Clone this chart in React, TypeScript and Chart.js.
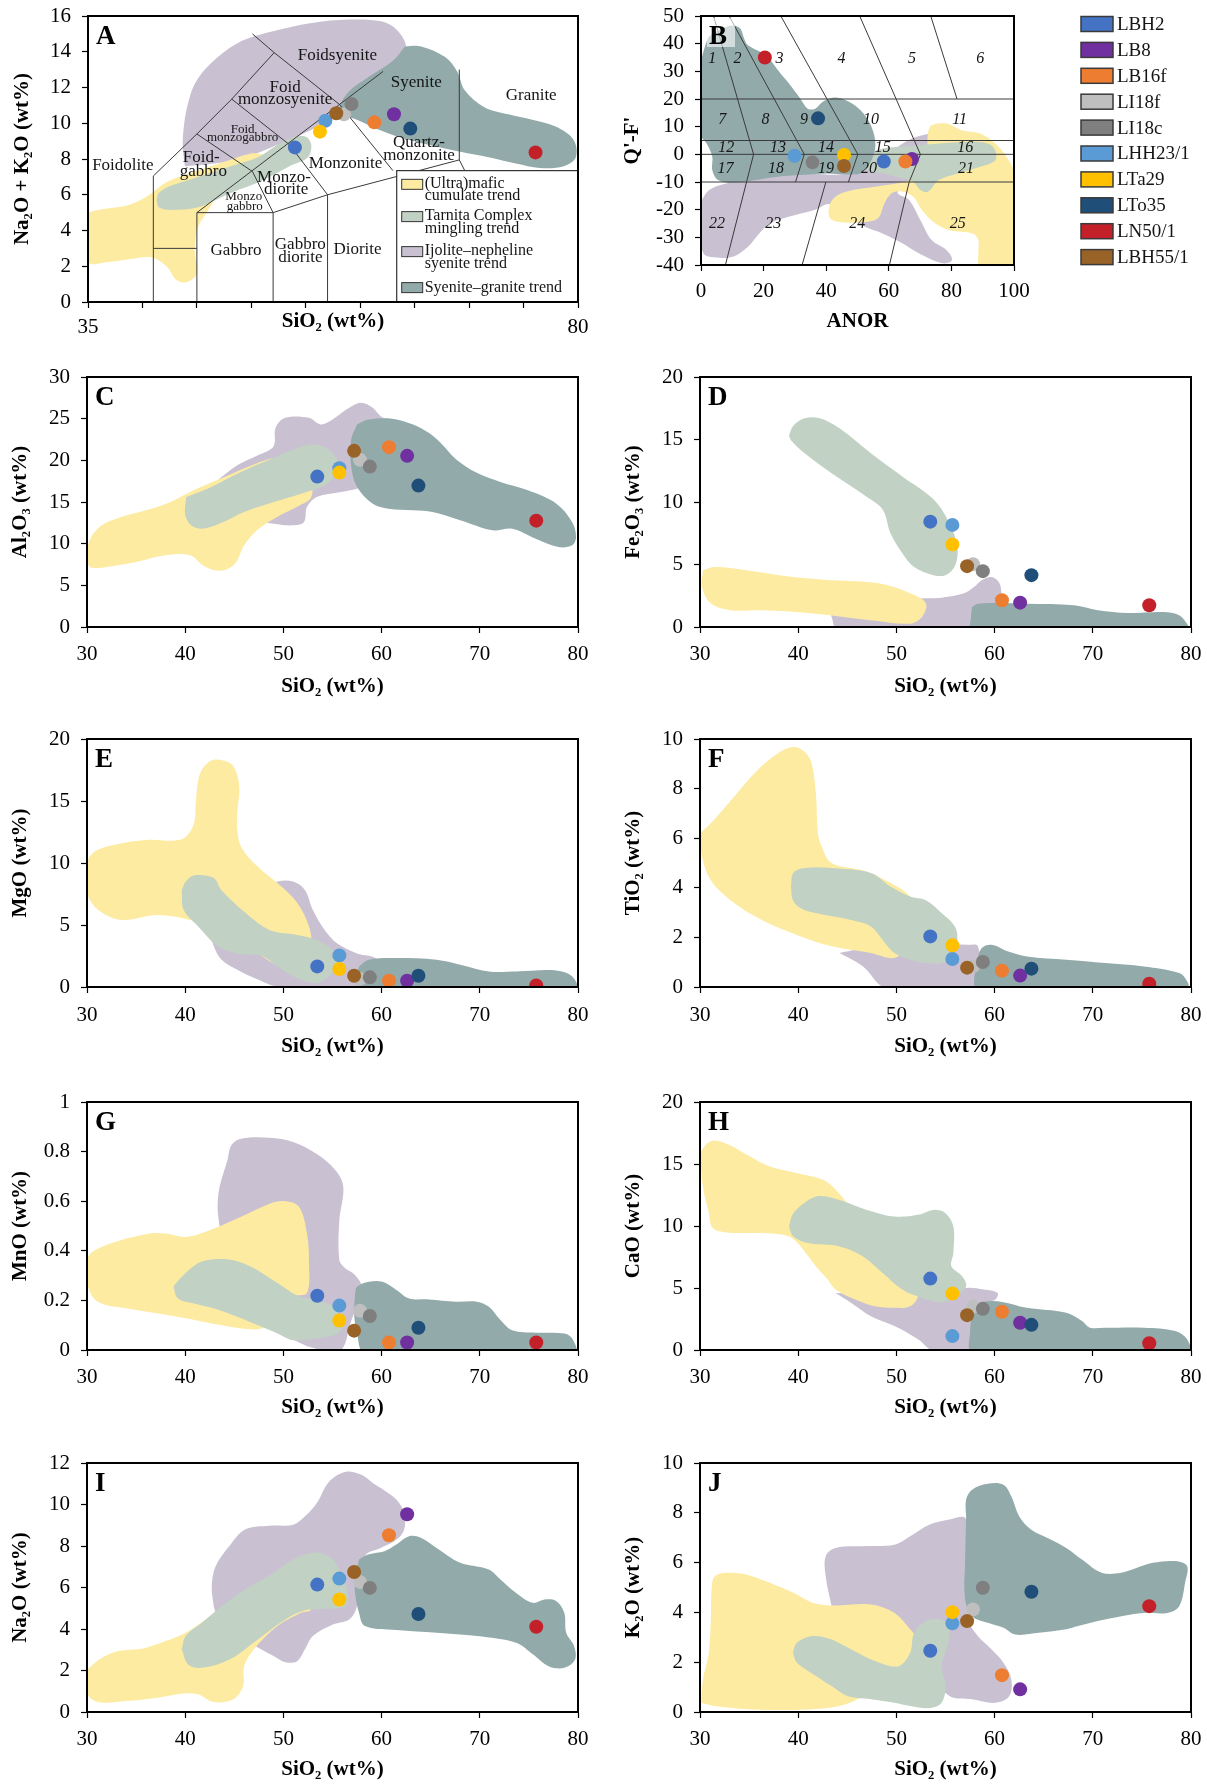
import React, { useEffect, useRef } from 'react';
import { Chart, registerables } from 'chart.js';

Chart.register(...registerables);

const SERIF = "'Liberation Serif', 'Times New Roman', 'DejaVu Serif', serif";
type P = [number, number];

// ---------------- sample data ----------------
const SAMPLES = ['LBH2', 'LB8', 'LB16f', 'LI18f', 'LI18c', 'LHH23/1', 'LTa29', 'LTo35', 'LN50/1', 'LBH55/1'];
const SAMPLE_COLORS = ['#4472C4', '#7030A0', '#ED7D31', '#BFBFBF', '#7F7F7F', '#5B9BD5', '#FFC000', '#1F4E79', '#C4202A', '#996328'];
const SIO2 = [53.45, 62.6, 60.75, 57.8, 58.8, 55.7, 55.7, 63.75, 75.75, 57.2];
const AL2O3 = [18.05, 20.54, 21.58, 20.06, 19.25, 19.05, 18.53, 16.97, 12.76, 21.14];
const FE2O3 = [8.43, 1.95, 2.14, 5.03, 4.47, 8.17, 6.61, 4.15, 1.74, 4.87];
const MGO = [1.66, 0.51, 0.51, 0.64, 0.78, 2.55, 1.45, 0.91, 0.13, 0.91];
const TIO2 = [2.04, 0.46, 0.66, 0.83, 1.01, 1.13, 1.68, 0.74, 0.13, 0.78];
const MNO = [0.219, 0.03, 0.03, 0.158, 0.137, 0.179, 0.119, 0.09, 0.03, 0.078];
const CAO = [5.76, 2.2, 3.08, 3.48, 3.32, 1.12, 4.55, 2.03, 0.54, 2.81];
const NA2O = [6.14, 9.53, 8.52, 6.27, 5.98, 6.43, 5.42, 4.72, 4.11, 6.75];
const K2O = [2.46, 0.91, 1.48, 4.12, 4.99, 3.56, 4.01, 4.83, 4.25, 3.65];
const TAS_SIO2 = [54.0, 63.1, 61.3, 58.5, 59.2, 56.8, 56.3, 64.6, 76.1, 57.8];
const TAS_ALK = [8.65, 10.5, 10.05, 10.5, 11.08, 10.14, 9.53, 9.7, 8.37, 10.56];
const ANOR = [58.4, 67.4, 65.3, 35.6, 35.6, 29.9, 45.7, 37.4, 20.4, 45.7];
const QF = [-2.6, -1.7, -2.6, -2.9, -2.9, -0.5, -0.2, 13.0, 35.0, -4.2];

// ---------------- trend envelopes ----------------
const TRENDS = ['purple', 'yellow', 'green', 'teal'];
const TREND_FILL: any = { purple: '#C9C1D2', yellow: '#FDEBA1', green: '#C1D1C4', teal: '#92AAAA' };
const TREND_Z: any = { purple: 4, yellow: 3, green: 2, teal: 1 };
const TREND_NAMES = [
  ['(Ultra)mafic', 'cumulate trend'],
  ['Tarnita Complex', 'mingling trend'],
  ['Ijolite\u2013nepheline', 'syenite trend'],
  ['Syenite\u2013granite trend'],
];
const TREND_LEGEND_KEYS = ['yellow', 'green', 'purple', 'teal'];

const A_YELLOW: P[] = [[34.9,5.0],[36.4,5.2],[38.6,5.4],[40.4,5.9],[42.2,6.7],[44.4,7.2],[47.3,7.8],[49.9,8.3],[51.2,8.2],[51,7.85],[48.8,7.2],[47.3,6.6],[46.6,5.7],[45.9,5.0],[45.1,4.2],[44.8,2.9],[45,1.6],[44,1.1],[43.1,1.25],[42.2,2.0],[40.8,2.5],[38.9,2.4],[36.4,2.2],[35.1,2.2],[34.9,3.85]];
const A_GREEN: P[] = [[41.3,5.7],[41.5,5.3],[42.6,5.15],[45.1,5.3],[48.1,6.1],[51,6.8],[53.5,7.6],[55.2,8.1],[55.5,8.8],[55,9.25],[53.9,9.25],[52.4,8.8],[50.6,8.1],[48.1,7.6],[45.1,7.0],[42.6,6.5],[41.5,6.1]];
const A_PURPLE: P[] = [[43.9,7.6],[43.7,8.7],[43.8,9.8],[44.1,10.9],[44.8,12.2],[46.2,13.3],[48.8,14.5],[51.7,15.1],[55.4,15.6],[59,15.8],[61.9,15.7],[63.4,15.2],[64.2,14.2],[63,12.5],[60,11],[57.9,10.4],[55.4,9.6],[52.4,8.8],[49,8.0],[46,7.7]];
const A_TEAL: P[] = [[64.1,14.3],[63,13.5],[60.8,12.6],[59,11.8],[58.1,10.9],[58.3,10.5],[59.7,10.2],[61.9,9.6],[64.5,9.06],[67,8.7],[69.2,8.4],[71.8,8.1],[74.3,7.75],[76.5,7.5],[78.7,7.6],[79.8,8.1],[79.6,9.06],[78,9.8],[75.8,10.2],[73.6,10.5],[71.4,10.9],[69.6,11.85],[68.9,12.9],[67.8,13.7],[65.6,14.3]];

const B_TEAL: P[] = [[2.4,42.4],[5.4,44.8],[10.2,46.6],[12.6,45.4],[13.8,41.8],[15,39.4],[19.8,36.4],[22.2,34],[24.6,30.4],[28.1,25.6],[31.7,20.2],[34.1,16.5],[36.5,16.5],[38.9,19],[42.5,20.5],[46.1,19.6],[50.9,16],[54.5,9.9],[55.7,2.7],[53.9,-3.3],[50.9,-6.9],[46.1,-7.2],[40.1,-6.9],[31.7,-7.5],[24.6,-8.1],[17.4,-9.3],[10.2,-10.3],[5.4,-9.3],[3.6,-5.7],[3.6,-0.9],[1.8,3.9],[-0.5,7.5],[-0.5,19.6],[-0.3,31.6],[1.2,38.8]];
const B_PURPLE: P[] = [[-0.5,-18],[2.5,-13],[8,-10.5],[20,-8],[35,-7],[46,-7],[58,-1],[66,5],[71,7],[74,7],[76,3],[74,-3],[70,-8],[64,-11],[62.9,-14.1],[66.5,-16.5],[70.1,-23.8],[73.7,-31],[78.4,-34.6],[80.2,-38.2],[77.2,-39.4],[70,-36],[64,-32],[58,-28.6],[52,-26],[47,-22],[41,-18],[36.5,-20],[28,-22.6],[22,-25],[18.6,-28.6],[15,-33.4],[10.2,-37],[4.2,-37.2],[0.8,-35.8],[-0.5,-28]];
const B_YELLOW: P[] = [[40.7,-21.4],[41.3,-17.7],[43.7,-14.7],[48.5,-12.9],[55.7,-11.7],[65.3,-9.9],[69,-8],[72,-3],[72.5,7.5],[73.7,10.5],[78.4,11.1],[83.2,8.7],[89.2,7.5],[94,3.9],[97.6,-0.9],[100.5,-8.1],[100.5,-41],[89.2,-41],[88.6,-35.8],[88.6,-31],[86.8,-28.6],[79.6,-27.4],[74.9,-25],[70.5,-20],[68,-15.5],[64.5,-13.5],[61,-14],[58.5,-18],[57,-22.5],[55,-24],[48.5,-24.7],[43.7,-24.4],[41.3,-23.2]];
const B_GREEN: P[] = [[52.1,-3.3],[53.3,-0.3],[58.1,2.1],[64.1,2.7],[70.1,3.3],[76,3.9],[84.4,4.5],[91.6,3.9],[94,1.5],[94,-2.1],[89.2,-4.5],[82,-6.9],[76,-9.3],[72.5,-13.5],[70.1,-12.9],[67.7,-9.9],[58.1,-6.9],[53.3,-5.7]];

const C_YELLOW: P[] = [[29.8,8.0],[30.3,10.5],[31.5,12.2],[33.5,13.2],[36,14.0],[38.5,15.0],[41,16.5],[44,18.0],[47,19.5],[49.5,20.3],[51.5,19.5],[52.8,17.5],[52.8,15.5],[51.5,14.5],[49.5,13.3],[47.5,11.8],[46,9.8],[45.2,7.8],[44.2,6.9],[43,6.8],[41.8,7.4],[40.5,8.6],[38,8.6],[35,7.8],[32.5,7.3],[30.5,7.1]];
const C_GREEN: P[] = [[40.1,15.6],[40,13.5],[40.6,12.2],[41.8,11.8],[43.7,12.5],[46,13.8],[49,15.0],[51.8,16.0],[54.2,17.0],[55.4,18.4],[55.5,20],[54.5,21.4],[53,21.9],[51,21.3],[49,20.3],[45.5,18.5],[42.5,16.7]];
const C_PURPLE: P[] = [[43.3,17.6],[45.3,19.4],[47.4,20.6],[49,21.7],[49.2,23.9],[50.2,25.1],[52.6,25.1],[53.8,24.3],[55,24.9],[56.7,26.3],[57.9,26.9],[59.1,26.3],[60,25.2],[61.5,24.5],[61,20],[58.5,17],[57.5,16.6],[55.9,16.2],[53.4,15.6],[52.4,14.4],[52.1,12.6],[51,12.2],[49,12.4],[47,12.8],[45,14],[44,15.5]];
const C_TEAL: P[] = [[57.5,24.3],[58.7,24.9],[61.1,25.0],[63.2,24.3],[64.8,23.3],[66,22.1],[67.6,20.1],[69.7,18.5],[72.1,17.4],[74.9,16.4],[77.8,14.8],[79.4,12.6],[79.8,10.8],[79.4,9.8],[78,9.6],[75.7,10.6],[73.3,11.8],[71.3,11.6],[68,12.8],[65.2,13.8],[63.2,14.0],[60.7,14.2],[59.1,14.8],[57.5,16.8],[56.9,19.3],[56.9,22.5]];

const D_GREEN: P[] = [[39.06,15.3],[39.5,16.1],[40.65,16.7],[42.2,16.7],[44.2,15.9],[47.4,13.9],[50.6,12.05],[53.8,10.2],[55.4,8.3],[56.2,6.4],[56,4.95],[55,4.15],[53.8,4.15],[51.8,4.8],[50.6,5.9],[49.4,7.5],[48.6,9.4],[47,10.4],[43.4,12.3],[40.65,13.9],[39.3,14.9]];
const D_YELLOW: P[] = [[30.3,4.55],[31.5,4.8],[34.7,4.55],[39.5,4.0],[43.4,3.75],[48.2,3.5],[51.4,2.7],[53,1.9],[52.6,0.8],[51.4,0.27],[47.4,0.54],[41.8,1.07],[36.3,1.34],[33.1,1.34],[31.1,1.9],[30.2,3.2]];
const D_PURPLE: P[] = [[43.4,0.8],[44,-0.2],[58.9,-0.2],[60.7,0.27],[60.7,2.4],[60.5,3.5],[59.7,4.0],[58.7,3.75],[57.9,3.2],[56.9,2.7],[54.6,2.35],[53,2.3],[49.8,2.1],[45,1.7],[43.4,1.2]];
const D_TEAL: P[] = [[57.7,1.6],[58.3,1.87],[63.3,1.87],[68.1,1.74],[70.5,1.34],[73.6,1.12],[77.2,1.2],[78.8,0.94],[79.7,0.13],[79.8,-0.2],[57.7,-0.2],[57.6,0.8]];

const E_YELLOW: P[] = [[29.8,8.1],[30.1,10.25],[31.1,11.06],[33.6,11.6],[36.4,11.87],[38.8,11.8],[40.05,12.1],[40.9,13.2],[41.1,15.1],[41.5,17.2],[42.5,18.2],[43.7,18.3],[44.9,17.8],[45.5,16.2],[45.3,14.0],[45.3,12.7],[45.7,11.3],[47.4,9.7],[49.8,8.1],[51.4,6.8],[52.6,4.9],[52.8,3.3],[51.8,1.9],[49.8,1.66],[47.4,2.7],[43.7,4.6],[40.5,5.4],[37.2,5.8],[33.6,5.4],[31.5,6.0],[30.3,7.0]];
const E_GREEN: P[] = [[39.65,7.8],[40.05,8.5],[40.9,9.0],[42.9,8.8],[43.7,7.8],[46.1,6.0],[48.6,4.6],[51.4,4.2],[53.4,3.8],[55,3.0],[55.5,1.9],[54.2,0.6],[53,0.32],[51,0.86],[49.4,1.66],[47.8,2.5],[45.3,2.7],[43.3,3.3],[41.3,4.9],[39.85,6.2]];
const E_PURPLE: P[] = [[42.5,4.6],[42.9,3.3],[43.7,2.2],[45.3,1.4],[47.4,0.6],[49.4,0.05],[59.1,0.05],[59.5,2.2],[57.5,2.7],[55.5,3.5],[54.2,4.6],[53,6.2],[52.2,7.8],[51,8.5],[49.4,8.5],[47,7.5],[44,5.5]];
const E_TEAL: P[] = [[57.7,1.66],[58.7,2.2],[61.5,2.34],[65.6,2.2],[68,1.8],[70.9,1.26],[73.7,1.26],[77.8,1.34],[79.4,0.86],[79.8,-0.1],[57.9,-0.1],[57.5,0.86]];

const F_YELLOW: P[] = [[30.0,6.2],[31.1,6.6],[33.1,7.5],[35.5,8.6],[37.5,9.3],[39.06,9.65],[40.25,9.6],[41.25,9.15],[41.8,7.8],[42,6.2],[42.4,5.66],[43.4,5.0],[46.6,4.7],[48.2,4.45],[51.4,3.65],[51.8,2.85],[51,1.64],[49.8,1.17],[47.4,1.37],[43.4,1.64],[40.25,2.04],[36.3,2.7],[33.1,3.5],[31.1,4.3],[30.2,5.26]];
const F_GREEN: P[] = [[39.26,4.05],[39.5,4.6],[40.65,4.8],[43.4,4.8],[47.4,4.6],[49.4,4.05],[51.4,3.65],[53,3.5],[54.6,2.98],[55.95,2.44],[56.2,1.9],[55.6,1.23],[54.6,0.97],[53,0.97],[51.4,1.1],[49.8,1.37],[48.6,1.9],[47.4,2.44],[45.4,2.7],[41.8,2.98],[40.25,3.18],[39.46,3.5]];
const F_PURPLE: P[] = [[44.2,1.37],[46.6,0.83],[49,-0.05],[58.5,-0.05],[58.3,1.64],[57.3,1.7],[54.2,1.7],[50,1.6],[46,1.5]];
const F_TEAL: P[] = [[58.1,0.97],[58.7,1.57],[59.7,1.7],[61.3,1.44],[63.3,1.23],[67.3,1.1],[71.25,0.97],[75.2,0.83],[78.8,0.56],[79.6,0.23],[79.7,-0.05],[58.3,-0.05]];

const G_YELLOW: P[] = [[29.8,0.36],[30.7,0.4],[33.2,0.44],[36.4,0.47],[38,0.47],[40,0.456],[42.1,0.477],[45.3,0.53],[48.6,0.59],[50.2,0.6],[51.6,0.577],[52.4,0.47],[52.6,0.36],[52.4,0.23],[51,0.215],[49.4,0.134],[48.2,0.094],[47,0.083],[43.7,0.1],[39.2,0.134],[34,0.168],[31.1,0.195],[30.1,0.255]];
const G_GREEN: P[] = [[38.8,0.255],[39.65,0.295],[41.3,0.35],[42.9,0.366],[44.9,0.362],[47,0.33],[49.4,0.27],[51.4,0.22],[53.4,0.2],[55,0.175],[56.1,0.107],[55.5,0.067],[53.4,0.047],[51,0.04],[49.4,0.067],[47.4,0.1],[45.3,0.134],[42.9,0.168],[40.9,0.188],[39.25,0.208]];
const G_PURPLE: P[] = [[43.5,0.497],[43.3,0.577],[43.5,0.657],[44.3,0.765],[44.7,0.826],[45.7,0.852],[48.6,0.856],[51,0.839],[53.4,0.79],[55.3,0.725],[56.1,0.658],[55.7,0.523],[55.7,0.362],[56.3,0.33],[57.1,0.309],[57.9,0.268],[58.1,0.228],[57.5,0.175],[56.7,0.094],[56.3,0.027],[55.5,-0.01],[52.6,0.013],[51.4,0.034],[50.2,0.054],[47,0.2],[44,0.4]];
const G_TEAL: P[] = [[57.3,0.228],[57.5,0.255],[58.7,0.275],[60.1,0.275],[61.5,0.242],[62.8,0.208],[64.8,0.204],[67.6,0.195],[69.7,0.195],[70.9,0.175],[72.1,0.121],[73.3,0.08],[75.7,0.07],[78.6,0.067],[79.4,0.047],[79.7,-0.01],[58.3,-0.01],[57.5,0.067],[57.2,0.148]];

const H_YELLOW: P[] = [[30.0,15.85],[30.7,16.65],[31.5,16.9],[33.1,16.5],[35.1,15.6],[37.1,14.8],[40.25,14.2],[42.6,13.7],[44.2,12.6],[45.4,11.3],[47,9.4],[48.2,8.35],[50.2,6.75],[51.8,5.14],[52.2,4.34],[51.4,3.53],[49.8,3.4],[47.8,3.53],[45.8,4.07],[43.8,4.87],[43,5.68],[41.8,6.75],[40.25,8.35],[39.06,9.16],[36.7,9.42],[32.7,9.48],[31.3,9.83],[30.9,11.03],[30.3,13.17]];
const H_GREEN: P[] = [[39.06,9.96],[39.5,11.03],[41.05,12.1],[42.2,12.42],[44.2,12.1],[47,11.3],[49.8,10.76],[52.2,10.9],[53.8,11.3],[55,11.03],[55.8,9.96],[55.8,7.82],[55.6,6.75],[56.7,5.94],[57.1,5.14],[56.1,4.34],[54.6,3.86],[52.6,4.2],[50.6,4.87],[48.6,6.2],[46.6,7.55],[44.2,8.35],[41.05,8.62],[39.5,9.16]];
const H_PURPLE: P[] = [[43.8,4.6],[45.4,3.8],[47.4,2.73],[49.8,1.93],[52.2,0.86],[53.8,-0.1],[57.7,-0.1],[59.3,3.8],[60.1,4.07],[60.3,4.6],[58.9,4.87],[57.1,5.0],[55.4,4.6],[52,4.5],[47,4.5]];
const H_TEAL: P[] = [[57.7,3.0],[58.3,3.67],[59.3,3.93],[60.9,3.86],[63.3,3.4],[67.3,3.0],[68.9,2.33],[69.7,1.8],[71.25,1.8],[75.2,1.8],[78.4,1.53],[79.6,0.86],[79.8,-0.1],[57.7,-0.1],[57.5,1.4]];

const I_YELLOW: P[] = [[30.0,2.05],[31.5,2.6],[33.2,2.94],[35.6,3.05],[38,3.42],[40.05,3.82],[42.1,4.46],[43.7,4.86],[46.1,5.34],[49,5.74],[51.4,5.98],[52.8,4.94],[51.8,4.78],[49.4,4.14],[47,3.02],[46,2.21],[45.9,1.25],[44.9,0.61],[42.9,0.48],[41.3,0.85],[40.05,0.9],[37.2,0.69],[34,0.53],[31.1,0.48],[30.0,0.93]];
const I_GREEN: P[] = [[39.65,3.02],[40.05,3.66],[41.7,4.3],[43.7,5.1],[46.1,5.9],[49,6.7],[51,7.35],[53,7.67],[54.65,7.5],[55.9,6.7],[56.5,5.74],[56.3,5.1],[54.2,4.97],[52.2,4.9],[50.2,4.46],[47.4,3.5],[44.5,2.53],[41.7,2.13],[40.3,2.29]];
const I_PURPLE: P[] = [[42.9,5.1],[42.7,6.06],[43.1,7.03],[44.5,8.0],[46.1,8.8],[48.6,8.98],[51,9.03],[52.2,9.43],[53.4,10.07],[54.65,11.1],[56.3,11.57],[57.9,11.44],[59.1,11.04],[60.3,10.68],[61.5,10.24],[62.3,9.6],[62.3,8.8],[61.5,8.3],[59.9,7.9],[58.3,7.5],[57.5,5.1],[56.7,4.46],[55.05,4.22],[53,3.66],[52.2,3.02],[51.4,2.45],[50.2,2.4],[49,2.7],[46,3.5],[43.5,4.3]];
const I_TEAL: P[] = [[57.7,7.35],[58.7,7.6],[60.3,7.75],[61.5,8.07],[62.8,8.47],[64,8.4],[65.6,7.9],[68,7.19],[70.9,6.87],[72.1,6.39],[73.7,5.74],[75.4,5.26],[76.6,5.42],[77.8,5.34],[78.6,4.78],[78.8,3.82],[79.6,3.18],[79.7,2.53],[78.6,2.13],[77,2.21],[75.4,2.78],[73.7,3.34],[69.7,3.66],[65.6,3.82],[61.5,3.95],[58.3,4.14],[57.7,4.78],[57.3,5.74],[57.3,6.55]];

const J_YELLOW: P[] = [[30.1,0.37],[30.3,1.31],[30.9,2.38],[31.1,3.72],[31.2,5.05],[31.5,5.45],[32.7,5.59],[34.7,5.52],[37.1,5.19],[39.5,4.79],[41.45,4.39],[43.4,4.28],[47.4,4.32],[49.8,3.98],[51.4,3.32],[52.6,2.65],[52.2,2.11],[49.8,1.78],[48.2,1.31],[46.6,0.64],[44.2,0.24],[41.05,0.1],[35.5,0.1],[31.5,0.24]];
const J_GREEN: P[] = [[39.46,2.38],[39.86,2.78],[41.45,3.05],[43.4,2.91],[45.4,2.51],[47.8,2.05],[50.2,1.84],[51.4,2.38],[51.8,3.18],[53,3.65],[54.4,3.72],[55.4,3.45],[55.2,2.65],[54.6,1.84],[55,1.04],[54.6,0.37],[53.4,0.16],[51.4,0.24],[49.8,0.37],[47.4,0.51],[45,0.64],[43.4,1.04],[41.85,1.44],[39.86,1.98]];
const J_PURPLE: P[] = [[43.4,4.25],[42.8,5.45],[42.8,6.26],[43.8,6.59],[46.6,6.66],[49.8,6.72],[51.4,7.06],[53.4,7.53],[55.4,7.73],[57,7.8],[57.3,7.06],[57.5,5.05],[57.3,3.72],[58.3,3.05],[59.7,2.51],[60.9,1.98],[61.7,1.31],[61.5,0.64],[60.1,0.37],[57.7,0.51],[55.4,0.64],[52,2],[47,3.5]];
const J_TEAL: P[] = [[57.1,7.8],[57.1,8.53],[57.7,8.93],[59.3,9.17],[60.9,9.13],[61.7,8.66],[62.5,7.86],[63.7,7.33],[65.7,6.93],[67.3,6.59],[68.9,6.12],[70.9,5.59],[72.9,5.59],[74.5,5.79],[76.1,5.99],[78.4,6.06],[79.6,5.86],[79.4,5.19],[78.8,4.25],[77.6,3.98],[75.2,3.98],[72.9,3.85],[70.5,3.65],[68.5,3.45],[67.3,3.32],[64.5,3.18],[62.1,3.11],[60.9,3.38],[59.3,3.58],[57.7,3.85],[57,4.52],[57,6.12]];

// ---------------- classification field boundaries ----------------
const TAS_LINES: P[][] = [
  [[41,0],[41,7.05]],
  [[41,3],[45,3]],
  [[45,0],[45,5]],
  [[52,0],[52,5]],
  [[57,0],[57,6]],
  [[41,7.05],[45,9.4],[48.2,11.35],[52.1,13.95]],
  [[50.1,15.0],[52.1,13.95],[58.1,11.05],[63,7.35]],
  [[45,5],[62.1,12.9]],
  [[45,9.4],[50.1,7.3],[52,5]],
  [[45,5],[52,5],[57,6],[69.1,7.95],[69.6,7.35]],
  [[48.2,11.35],[53.5,8.8],[57,6]],
  [[69.1,7.95],[69.1,13.0]],
];
const QAPF_LINES: P[][] = [
  [[0,20],[100,20]], [[0,5],[100,5]], [[0,0],[100,0]], [[0,-10],[100,-10]],
  [[4,50],[16.8,0],[7.8,-40]],
  [[9,50],[33,0],[30.2,-10]],
  [[25.5,50],[50.1,0],[47.1,-10]],
  [[50.7,50],[70.1,0],[66.5,-10],[60.2,-40]],
  [[73.4,50],[81.8,20]],
  [[39.9,-10],[32.3,-40]],
];

// ---------------- field names ----------------
const TAS_LABELS = [
  { s: 'Foidsyenite', x: 57.9, y: 13.8, size: 17 },
  { s: 'Foid', x: 53.1, y: 12.0, size: 17 },
  { s: 'monzosyenite', x: 53.1, y: 11.3, size: 17 },
  { s: 'Foid', x: 49.2, y: 9.66, size: 13 },
  { s: 'monzogabbro', x: 49.2, y: 9.22, size: 13 },
  { s: 'Foidolite', x: 38.2, y: 7.63, size: 17 },
  { s: 'Foid-', x: 45.4, y: 8.09, size: 17 },
  { s: 'gabbro', x: 45.6, y: 7.3, size: 17 },
  { s: 'Monzo-', x: 53.0, y: 6.98, size: 17 },
  { s: 'diorite', x: 53.2, y: 6.27, size: 17 },
  { s: 'Monzo', x: 49.3, y: 5.9, size: 13 },
  { s: 'gabbro', x: 49.4, y: 5.34, size: 13 },
  { s: 'Monzonite', x: 58.65, y: 7.72, size: 17 },
  { s: 'Syenite', x: 65.15, y: 12.3, size: 17 },
  { s: 'Granite', x: 75.7, y: 11.53, size: 17 },
  { s: 'Quartz-', x: 65.4, y: 8.91, size: 17 },
  { s: 'monzonite', x: 65.4, y: 8.2, size: 17 },
  { s: 'Gabbro', x: 48.6, y: 2.88, size: 17 },
  { s: 'Gabbro', x: 54.5, y: 3.2, size: 17 },
  { s: 'diorite', x: 54.5, y: 2.51, size: 17 },
  { s: 'Diorite', x: 59.75, y: 2.92, size: 17 },
];
const QAPF_FIELD_NUMBERS = ['1','2','3','4','5','6','7','8','9','10','11','12','13','14','15','16','17','18','19','20','21','22','23','24','25'];
const QAPF_FIELD_X = [3.6,11.7,25.1,44.9,67.4,89.2,6.8,20.6,32.9,54.3,82.6,8.1,24.6,39.9,58.1,84.4,7.8,24,39.9,53.7,84.7,5.1,23.1,49.9,82];
const QAPF_FIELD_Y = [34.6,34.6,34.6,34.6,34.6,34.6,12.6,12.6,12.6,12.6,12.6,2.5,2.5,2.5,2.5,2.5,-5.3,-5.3,-5.3,-5.3,-5.3,-25.2,-25.2,-25.2,-25.2];
const QAPF_LABELS = QAPF_FIELD_NUMBERS.map((s, i) => ({ s, x: QAPF_FIELD_X[i], y: QAPF_FIELD_Y[i], size: 16, italic: true }));

const SIO2_TITLE = 'SiO\u2082 (wt%)';

const PANELS: any[] = [
  { key: 'A', box: [88, 16, 578, 302], cl: 0, cw: 600, xTitleY: 322, yTitleX: 23, tickY: 327,
    xr: [35, 80, 5], yr: [0, 16, 2], xOnly: [35, 80], xTitle: SIO2_TITLE, yTitle: 'Na\u2082O + K\u2082O (wt%)',
    xs: TAS_SIO2, ys: TAS_ALK, shapes: { purple: A_PURPLE, yellow: A_YELLOW, green: A_GREEN, teal: A_TEAL },
    lines: TAS_LINES, texts: TAS_LABELS },
  { key: 'B', box: [701, 16, 1014, 265], cl: 600, cw: 607, xTitleY: 322, yTitleX: 633, tickY: 291.7,
    xr: [0, 100, 20], yr: [-40, 50, 10], xTitle: 'ANOR', yTitle: "Q'-F'",
    xs: ANOR, ys: QF, shapes: { purple: B_PURPLE, yellow: B_YELLOW, green: B_GREEN, teal: B_TEAL },
    lines: QAPF_LINES, texts: QAPF_LABELS },
  { key: 'C', box: [87, 377, 578, 627], cl: 0, cw: 600, xTitleY: 687, yTitleX: 21, tickY: 654.3,
    xr: [30, 80, 10], yr: [0, 30, 5], xTitle: SIO2_TITLE, yTitle: 'Al\u2082O\u2083 (wt%)',
    xs: SIO2, ys: AL2O3, shapes: { purple: C_PURPLE, yellow: C_YELLOW, green: C_GREEN, teal: C_TEAL } },
  { key: 'D', box: [700, 377, 1191, 627], cl: 600, cw: 607, xTitleY: 687, yTitleX: 634, tickY: 654.3,
    xr: [30, 80, 10], yr: [0, 20, 5], xTitle: SIO2_TITLE, yTitle: 'Fe\u2082O\u2083 (wt%)',
    xs: SIO2, ys: FE2O3, shapes: { purple: D_PURPLE, yellow: D_YELLOW, green: D_GREEN, teal: D_TEAL } },
  { key: 'E', box: [87, 739, 578, 987], cl: 0, cw: 600, xTitleY: 1047, yTitleX: 21, tickY: 1015,
    xr: [30, 80, 10], yr: [0, 20, 5], xTitle: SIO2_TITLE, yTitle: 'MgO (wt%)',
    xs: SIO2, ys: MGO, shapes: { purple: E_PURPLE, yellow: E_YELLOW, green: E_GREEN, teal: E_TEAL } },
  { key: 'F', box: [700, 739, 1191, 987], cl: 600, cw: 607, xTitleY: 1047, yTitleX: 634, tickY: 1015,
    xr: [30, 80, 10], yr: [0, 10, 2], xTitle: SIO2_TITLE, yTitle: 'TiO\u2082 (wt%)',
    xs: SIO2, ys: TIO2, shapes: { purple: F_PURPLE, yellow: F_YELLOW, green: F_GREEN, teal: F_TEAL } },
  { key: 'G', box: [87, 1102, 578, 1350], cl: 0, cw: 600, xTitleY: 1408, yTitleX: 21, tickY: 1377,
    xr: [30, 80, 10], yr: [0, 1, 0.2], xTitle: SIO2_TITLE, yTitle: 'MnO (wt%)',
    xs: SIO2, ys: MNO, shapes: { purple: G_PURPLE, yellow: G_YELLOW, green: G_GREEN, teal: G_TEAL } },
  { key: 'H', box: [700, 1102, 1191, 1350], cl: 600, cw: 607, xTitleY: 1408, yTitleX: 634, tickY: 1377,
    xr: [30, 80, 10], yr: [0, 20, 5], xTitle: SIO2_TITLE, yTitle: 'CaO (wt%)',
    xs: SIO2, ys: CAO, shapes: { purple: H_PURPLE, yellow: H_YELLOW, green: H_GREEN, teal: H_TEAL } },
  { key: 'I', box: [87, 1463, 578, 1712], cl: 0, cw: 600, xTitleY: 1770, yTitleX: 21, tickY: 1739,
    xr: [30, 80, 10], yr: [0, 12, 2], xTitle: SIO2_TITLE, yTitle: 'Na\u2082O (wt%)',
    xs: SIO2, ys: NA2O, shapes: { purple: I_PURPLE, yellow: I_YELLOW, green: I_GREEN, teal: I_TEAL } },
  { key: 'J', box: [700, 1463, 1191, 1712], cl: 600, cw: 607, xTitleY: 1770, yTitleX: 634, tickY: 1739,
    xr: [30, 80, 10], yr: [0, 10, 2], xTitle: SIO2_TITLE, yTitle: 'K\u2082O (wt%)',
    xs: SIO2, ys: K2O, shapes: { purple: J_PURPLE, yellow: J_YELLOW, green: J_GREEN, teal: J_TEAL } },
];

const PAD_TOP = 14;

function geom(d: any) {
  const [l, t, r, b] = d.box;
  const top = t - PAD_TOP;
  const xH = d.xTitleY + 12.6 - b;
  const bottom = Math.min(b + xH + 4, 1785);
  const height = Math.round(bottom - top);
  const padB = Math.max(0, height - (b - top) - xH);
  const padL = d.yTitleX - 12.6 - d.cl;
  const yW = l - d.cl - padL;
  const padR = d.cl + d.cw - r;
  const tickPad = d.tickY - b - 6 - 12.6;
  return { top, height, xH, padB, padL, yW, padR, tickPad };
}

function fmt(v: number) {
  return String(Math.round(v * 100) / 100);
}

function makeDeco(d: any) {
  return {
    id: 'deco' + d.key,
    afterDatasetsDraw(chart: any) {
      const { ctx, chartArea: ca } = chart;
      const sx = chart.scales.x, sy = chart.scales.y;
      ctx.save();
      ctx.fillStyle = '#151515';
      ctx.textAlign = 'center';
      ctx.textBaseline = 'middle';
      for (const t of d.texts || []) {
        ctx.font = `${t.italic ? 'italic ' : ''}${t.size}px ${SERIF}`;
        ctx.fillText(t.s, sx.getPixelForValue(t.x), sy.getPixelForValue(t.y));
      }
      if (d.key === 'A') {
        const x0 = sx.getPixelForValue(63.35), y0 = sy.getPixelForValue(7.35);
        ctx.fillStyle = '#fff';
        ctx.fillRect(x0, y0, ca.right - x0, ca.bottom - y0);
        ctx.strokeStyle = '#333';
        ctx.lineWidth = 1.2;
        ctx.strokeRect(x0, y0, ca.right - x0, ca.bottom - y0);
        const swTop = [8.7, 41, 76, 112];
        const txt = [[12.7, 25.4], [45.4, 57.7], [80.4, 93.4], [116.7]];
        ctx.font = `16px ${SERIF}`;
        ctx.textAlign = 'left';
        TREND_LEGEND_KEYS.forEach((k, i) => {
          ctx.fillStyle = TREND_FILL[k];
          ctx.fillRect(x0 + 5, y0 + swTop[i], 21, 10);
          ctx.strokeStyle = '#333';
          ctx.lineWidth = 1;
          ctx.strokeRect(x0 + 5, y0 + swTop[i], 21, 10);
          ctx.fillStyle = '#151515';
          TREND_NAMES[i].forEach((line, j) => ctx.fillText(line, x0 + 28, y0 + txt[i][j]));
        });
      }
      ctx.restore();
    },
    afterDraw(chart: any) {
      const { ctx, chartArea: ca } = chart;
      ctx.save();
      ctx.strokeStyle = '#000';
      ctx.lineWidth = 2;
      ctx.strokeRect(ca.left, ca.top, ca.right - ca.left, ca.bottom - ca.top);
      if (d.key === 'B') {
        ctx.fillStyle = 'rgba(255,255,255,0.6)';
        ctx.fillRect(ca.left + 6, ca.top + 2, 28, 29);
      }
      ctx.fillStyle = '#000';
      ctx.font = `bold 27px ${SERIF}`;
      ctx.textAlign = 'left';
      ctx.textBaseline = 'alphabetic';
      ctx.fillText(d.key, ca.left + 8, ca.top + 28);
      if (d.key === 'B') {
        ctx.font = `19px ${SERIF}`;
        ctx.textBaseline = 'middle';
        SAMPLES.forEach((name, i) => {
          const cy = 22 + 25.9 * i;
          ctx.fillStyle = SAMPLE_COLORS[i];
          ctx.fillRect(481, cy - 7.5, 32, 15);
          ctx.strokeStyle = '#3a3a3a';
          ctx.lineWidth = 1.5;
          ctx.strokeRect(481, cy - 7.5, 32, 15);
          ctx.fillStyle = '#151515';
          ctx.fillText(name, 517, cy + 1);
        });
      }
      ctx.restore();
    },
  };
}

function buildConfig(d: any, g: any) {
  const datasets: any[] = [];
  SAMPLES.forEach((name, i) => {
    datasets.push({
      type: 'scatter', label: name, data: [{ x: d.xs[i], y: d.ys[i] }],
      backgroundColor: SAMPLE_COLORS[i], borderColor: SAMPLE_COLORS[i], borderWidth: 0,
      pointRadius: 7, pointHoverRadius: 7, order: -i,
    });
  });
  (d.lines || []).forEach((seg: P[]) => {
    datasets.push({
      type: 'line', label: 'boundary', data: seg.map(([x, y]) => ({ x, y })),
      borderColor: '#3a3a3a', borderWidth: 1, pointRadius: 0, fill: false, tension: 0, order: 0.5,
    });
  });
  TRENDS.forEach((k) => {
    const pts: P[] = d.shapes[k];
    if (!pts) return;
    const data = pts.map(([x, y]) => ({ x, y }));
    data.push({ x: pts[0][0], y: pts[0][1] });
    datasets.push({
      type: 'line', label: k, data, backgroundColor: TREND_FILL[k], borderColor: 'rgba(0,0,0,0)',
      borderWidth: 0, pointRadius: 0, fill: 'shape', tension: 0.35, order: TREND_Z[k],
    });
  });
  const tickFont = { family: SERIF, size: 21 };
  const titleFont = { family: SERIF, size: 21, weight: 'bold' };
  return {
    type: 'scatter',
    data: { datasets },
    options: {
      responsive: false,
      animation: false,
      events: [],
      layout: { padding: { left: g.padL, right: g.padR, top: PAD_TOP, bottom: g.padB } },
      plugins: { legend: { display: false }, tooltip: { enabled: false } },
      scales: {
        x: {
          type: 'linear', position: 'bottom', min: d.xr[0], max: d.xr[1],
          afterFit: (s: any) => { s.height = g.xH; s.paddingLeft = 0; s.paddingRight = 0; },
          ticks: {
            stepSize: d.xr[2], autoSkip: false, maxRotation: 0, padding: g.tickPad, font: tickFont, color: '#000',
            callback: (v: any) => (d.xOnly ? (d.xOnly.includes(v) ? fmt(v) : '') : fmt(v)),
          },
          grid: { drawOnChartArea: false, drawTicks: true, tickLength: 6, tickColor: '#000', tickWidth: 1.2 },
          border: { display: true, color: '#000', width: 2 },
          title: { display: true, text: d.xTitle, font: titleFont, color: '#000', padding: 0 },
        },
        y: {
          type: 'linear', position: 'left', min: d.yr[0], max: d.yr[1],
          afterFit: (s: any) => { s.width = g.yW; s.paddingTop = 0; s.paddingBottom = 0; },
          ticks: { stepSize: d.yr[2], autoSkip: false, padding: 11, font: tickFont, color: '#000', callback: (v: any) => fmt(v) },
          grid: { drawOnChartArea: false, drawTicks: true, tickLength: 6, tickColor: '#000', tickWidth: 1.2 },
          border: { display: true, color: '#000', width: 2 },
          title: { display: true, text: d.yTitle, font: titleFont, color: '#000', padding: 0 },
        },
      },
    },
    plugins: [makeDeco(d)],
  };
}

function Panel({ def }: any) {
  const ref = useRef<HTMLCanvasElement | null>(null);
  const g = geom(def);
  useEffect(() => {
    const chart = new Chart(ref.current as any, buildConfig(def, geom(def)) as any);
    return () => chart.destroy();
  }, []);
  return (
    <canvas
      ref={ref}
      width={def.cw}
      height={g.height}
      style={{ position: 'absolute', left: def.cl, top: g.top, width: def.cw, height: g.height, display: 'block' }}
    />
  );
}

export default function App() {
  return (
    <div style={{ position: 'absolute', left: 0, top: 0, width: 1207, height: 1785, background: '#fff', overflow: 'hidden' }}>
      {PANELS.map((p) => <Panel key={p.key} def={p} />)}
    </div>
  );
}
